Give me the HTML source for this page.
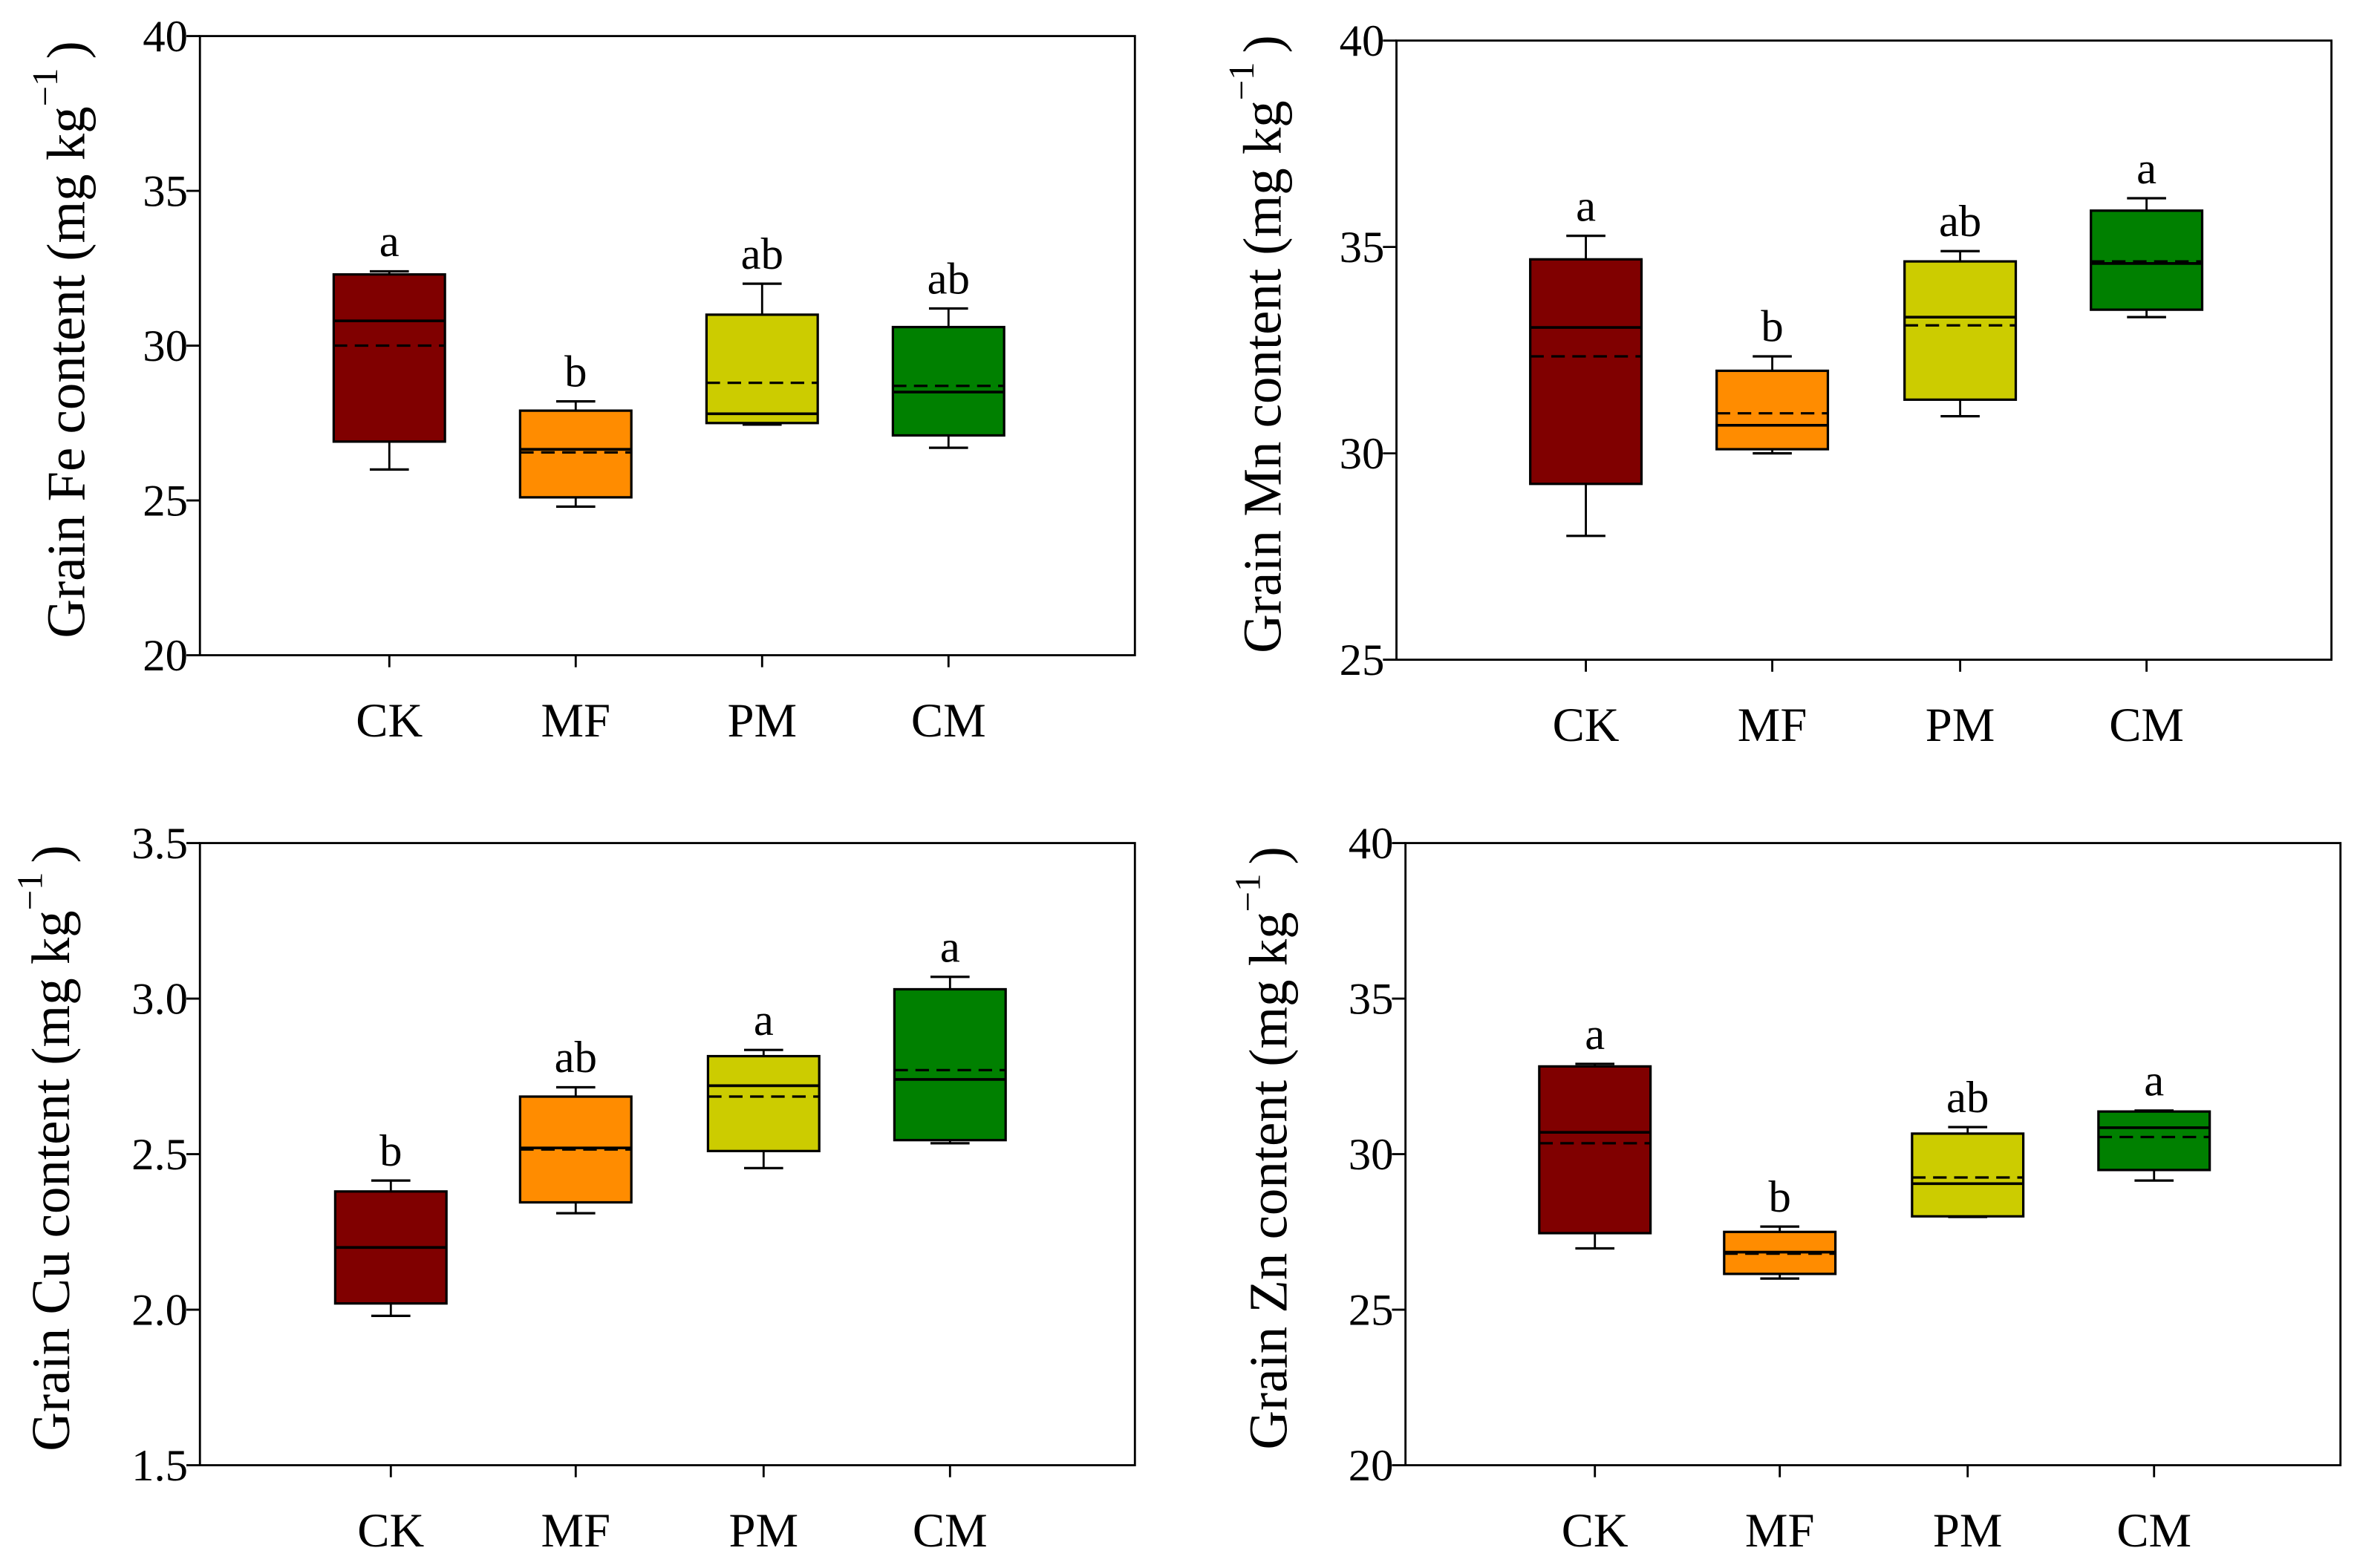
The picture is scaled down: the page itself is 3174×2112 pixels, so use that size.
<!DOCTYPE html>
<html><head><meta charset="utf-8">
<style>
html,body{margin:0;padding:0;background:#fff;}
svg{display:block;}
text{font-family:"Liberation Serif","Times New Roman",serif;fill:#000;}
</style></head>
<body>
<svg id="fig" width="3174" height="2112" viewBox="0 0 1568 1043.4" preserveAspectRatio="none" xmlns="http://www.w3.org/2000/svg"></svg>
<script>
const categories = ["CK","MF","PM","CM"];
const colors = ["#800000","#ff8c00","#cccc00","#008000"];
// Fe
const feQ1 = [26.9,25.1,27.5,27.1], feQ3 = [32.3,27.9,31.0,30.6], feMed = [30.8,26.65,27.8,28.5], feMean = [30.0,26.55,28.8,28.7], feMin = [26.0,24.8,27.45,26.7], feMax = [32.4,28.2,32.0,31.2];
const feLetters = ["a","b","ab","ab"];
const feTicks = [20,25,30,35,40];
// Mn
const mnQ1 = [29.26,30.1,31.3,33.48], mnQ3 = [34.7,32.0,34.65,35.88], mnMed = [33.05,30.68,33.3,34.6], mnMean = [32.35,30.97,33.1,34.65], mnMin = [28.0,30.0,30.9,33.3], mnMax = [35.27,32.35,34.9,36.18];
const mnLetters = ["a","b","ab","a"];
const mnTicks = [25,30,35,40];
// Cu
const cuQ1 = [2.02,2.345,2.51,2.545], cuQ3 = [2.38,2.685,2.815,3.03], cuMed = [2.2,2.52,2.72,2.74], cuMean = [2.2,2.515,2.685,2.77], cuMin = [1.98,2.31,2.455,2.535], cuMax = [2.415,2.715,2.835,3.07];
const cuLetters = ["b","ab","a","a"];
const cuTicks = [1.5,2.0,2.5,3.0,3.5];
// Zn
const znQ1 = [27.46,26.15,28.0,29.49], znQ3 = [32.82,27.5,30.66,31.37], znMed = [30.7,26.85,29.05,30.85], znMean = [30.35,26.8,29.25,30.55], znMin = [26.97,26.0,27.98,29.15], znMax = [32.9,27.67,30.87,31.4];
const znLetters = ["a","b","ab","a"];
const znTicks = [20,25,30,35,40];

const NS = "http://www.w3.org/2000/svg";
const svg = document.getElementById("fig");
function mk(tag, attrs, parent){const e=document.createElementNS(NS,tag);for(const k in attrs)e.setAttribute(k,attrs[k]);(parent||svg).appendChild(e);return e;}

function panel(cfg){
  const g = mk("g",{});
  
  
  const {x0,x1,yTop,yBot,ymin,ymax,cx,bw} = cfg;
  const y = v => yBot - (v-ymin)/(ymax-ymin)*(yBot-yTop);
  const frame = mk("rect",{x:x0,y:yTop,width:x1-x0,height:yBot-yTop,fill:"none",stroke:"#000","stroke-width":1.4},g);
  
  
  cfg.ticks.forEach(t=>{
    mk("line",{x1:x0-9,x2:x0,y1:y(t),y2:y(t),stroke:"#000","stroke-width":1.4},g);
    const tx = mk("text",{x:x0-8,y:y(t)+10,"font-size":30,"text-anchor":"end"},g);
    tx.textContent = cfg.fmt(t);
    
    
  });
  categories.forEach((c,i)=>{
    const X = cx[i];
    mk("line",{x1:X,x2:X,y1:yBot,y2:yBot+8,stroke:"#000","stroke-width":1.4},g);
    const cl = mk("text",{x:X,y:yBot+54,"font-size":32,"text-anchor":"middle"},g);
    cl.textContent = c;
    
    
    mk("line",{x1:X,x2:X,y1:y(cfg.max[i]),y2:y(cfg.q3[i]),stroke:"#000","stroke-width":1.4},g);
    mk("line",{x1:X,x2:X,y1:y(cfg.min[i]),y2:y(cfg.q1[i]),stroke:"#000","stroke-width":1.4},g);
    mk("line",{x1:X-13,x2:X+13,y1:y(cfg.max[i]),y2:y(cfg.max[i]),stroke:"#000","stroke-width":1.6},g);
    mk("line",{x1:X-13,x2:X+13,y1:y(cfg.min[i]),y2:y(cfg.min[i]),stroke:"#000","stroke-width":1.6},g);
    const b = mk("rect",{x:X-bw/2,y:y(cfg.q3[i]),width:bw,height:y(cfg.q1[i])-y(cfg.q3[i]),fill:colors[i],stroke:"#000","stroke-width":1.6},g);
    
    
    mk("line",{x1:X-bw/2,x2:X+bw/2,y1:y(cfg.med[i]),y2:y(cfg.med[i]),stroke:"#000","stroke-width":1.8},g);
    mk("line",{x1:X-bw/2,x2:X+bw/2,y1:y(cfg.mean[i]),y2:y(cfg.mean[i]),stroke:"#000","stroke-width":1.6,"stroke-dasharray":"9,5"},g);
    const lt = mk("text",{x:X,y:y(cfg.max[i])-10,"font-size":30,"text-anchor":"middle"},g);
    lt.textContent = cfg.letters[i];
    
    
  });
  const tcx = cfg.titleX, tcy = (yTop+yBot)/2 - 4;
  const tt = mk("text",{x:tcx,y:tcy,"font-size":36,"text-anchor":"middle",transform:`rotate(-90 ${tcx} ${tcy})`},g);
  
  
  const s1 = mk("tspan",{},tt); s1.textContent = "Grain "+cfg.el+" content (mg kg";
  const s2 = mk("tspan",{dy:-18,"font-size":24},tt); s2.textContent = "\u22121";
  const s3 = mk("tspan",{dy:18,dx:6},tt); s3.textContent = ")";
}

panel({name:"fe-panel",el:"Fe",x0:133,x1:755,yTop:24,yBot:436,ymin:20,ymax:40,cx:[259,383,507,631],bw:74,ticks:feTicks,fmt:t=>String(t),titleX:56,
  q1:feQ1,q3:feQ3,med:feMed,mean:feMean,min:feMin,max:feMax,letters:feLetters});
panel({name:"mn-panel",el:"Mn",x0:929,x1:1551,yTop:27,yBot:439,ymin:25,ymax:40,cx:[1055,1179,1304,1428],bw:74,ticks:mnTicks,fmt:t=>String(t),titleX:852,
  q1:mnQ1,q3:mnQ3,med:mnMed,mean:mnMean,min:mnMin,max:mnMax,letters:mnLetters});
panel({name:"cu-panel",el:"Cu",x0:133,x1:755,yTop:561,yBot:975,ymin:1.5,ymax:3.5,cx:[260,383,508,632],bw:74,ticks:cuTicks,fmt:t=>t.toFixed(1),titleX:46,
  q1:cuQ1,q3:cuQ3,med:cuMed,mean:cuMean,min:cuMin,max:cuMax,letters:cuLetters});
panel({name:"zn-panel",el:"Zn",x0:935,x1:1557,yTop:561,yBot:975,ymin:20,ymax:40,cx:[1061,1184,1309,1433],bw:74,ticks:znTicks,fmt:t=>String(t),titleX:856,
  q1:znQ1,q3:znQ3,med:znMed,mean:znMean,min:znMin,max:znMax,letters:znLetters});
</script>
</body></html>
